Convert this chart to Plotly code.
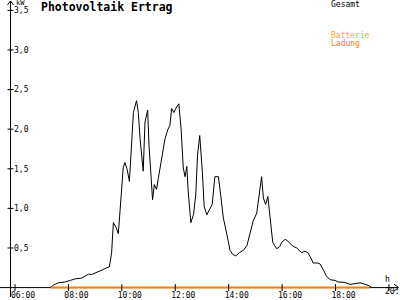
import plotly.graph_objects as go

DAY = "2024-06-01 "

# Gesamt (kW)
times = ["07:19","07:26","07:37","07:52","08:04","08:15","08:30","08:37","08:45","08:52",
         "09:04","09:15","09:26","09:32","09:37","09:41","09:47","09:52","09:56","10:00",
         "10:03","10:07","10:12","10:17","10:21","10:26","10:33","10:37","10:41","10:45",
         "10:48","10:52","10:58","11:01","11:06","11:09","11:13","11:18","11:22","11:30",
         "11:37","11:43","11:48","11:52","11:57","12:03","12:08","12:13","12:18","12:22",
         "12:26","12:29","12:35","12:41","12:46","12:50","12:55","13:01","13:05","13:11",
         "13:18","13:23","13:29","13:37","13:42","13:48","13:56","14:03","14:09","14:16",
         "14:24","14:33","14:41","14:48","14:55","15:03","15:09","15:14","15:18","15:23",
         "15:28","15:33","15:39","15:48","15:55","15:59","16:07","16:14","16:25","16:33",
         "16:44","16:51","16:58","17:03","17:10","17:20","17:25","17:33","17:40","17:48",
         "17:59","18:06","18:21","18:33","18:44","18:55","19:02","19:10","19:17","19:20"]
gesamt = [0, 0.03, 0.06, 0.07, 0.09, 0.11, 0.12, 0.14, 0.17, 0.165,
          0.19, 0.22, 0.25, 0.26, 0.44, 0.82, 0.76, 0.68, 0.97, 1.22,
          1.51, 1.58, 1.49, 1.34, 1.67, 2.21, 2.36, 2.21, 1.88, 1.59,
          1.47, 2.09, 2.24, 1.80, 1.30, 1.11, 1.30, 1.24, 1.38, 1.67,
          1.88, 1.99, 2.05, 2.26, 2.21, 2.28, 2.32, 2.01, 1.51, 1.40,
          1.53, 1.22, 0.82, 0.92, 1.17, 1.67, 1.92, 1.45, 1.02, 0.92,
          0.99, 1.05, 1.40, 1.40, 1.17, 0.88, 0.67, 0.47, 0.42, 0.40,
          0.44, 0.47, 0.53, 0.67, 0.84, 0.94, 1.22, 1.40, 1.13, 1.05,
          1.15, 0.88, 0.57, 0.49, 0.52, 0.57, 0.61, 0.58, 0.52, 0.50,
          0.44, 0.46, 0.44, 0.39, 0.31, 0.31, 0.30, 0.22, 0.14, 0.10,
          0.09, 0.07, 0.065, 0.04, 0.05, 0.06, 0.05, 0.03, 0.02, 0]

# Batterie Ladung (kW)
batt_times = ["07:20", "19:17"]
batt = [0, 0]

x_ticks = ["06:00", "08:00", "10:00", "12:00", "14:00", "16:00", "18:00", "20:00"]
x_labels = ["06:00", "08:00", "10:00", "12:00", "14:00", "16:00", "18:00"]
last_label = "20:"          # label of the last tick, cut at the right edge
y_ticks = [0.5, 1.0, 1.5, 2.0, 2.5, 3.0, 3.5]
y_ticktext = ["0,5", "1,0", "1,5", "2,0", "2,5", "3,0", "3,5"]

W, H = 400, 300
def px(x): return x / W
def py(y): return 1 - y / H

MONO = "DejaVu Sans Mono"

fig = go.Figure()
fig.add_trace(go.Scatter(x=[DAY + t for t in times], y=gesamt, mode="lines",
                         line=dict(color="black", width=1), hoverinfo="skip",
                         showlegend=False))
fig.add_trace(go.Scatter(x=[DAY + t for t in batt_times], y=batt, mode="lines",
                         line=dict(color="#ff8000", width=2), hoverinfo="skip",
                         showlegend=False))

shapes = []
# axis lines
shapes.append(dict(type="line", xref="paper", yref="paper", x0=px(0), x1=px(398),
                   y0=py(290.5), y1=py(290.5), line=dict(color="black", width=1), layer="below"))
shapes.append(dict(type="line", xref="paper", yref="paper", x0=px(10.5), x1=px(10.5),
                   y0=py(1), y1=py(300), line=dict(color="black", width=1)))
# arrowheads
shapes.append(dict(type="path", xref="paper", yref="paper",
                   path=f"M {px(394)} {py(287)} L {px(398.5)} {py(290.5)} L {px(394)} {py(294)}",
                   line=dict(color="black", width=1)))
shapes.append(dict(type="path", xref="paper", yref="paper",
                   path=f"M {px(7.5)} {py(5)} L {px(10.5)} {py(1)} L {px(13.5)} {py(5)}",
                   line=dict(color="black", width=1)))
# tick crosses
for t in x_ticks:
    shapes.append(dict(type="line", xref="x", yref="paper", x0=DAY + t, x1=DAY + t,
                       y0=py(287), y1=py(294), line=dict(color="black", width=1)))
for v in y_ticks:
    shapes.append(dict(type="line", xref="paper", yref="y", x0=px(7.5), x1=px(13.5),
                       y0=v, y1=v, line=dict(color="black", width=1)))

annotations = [
    dict(text="<b>Photovoltaik Ertrag</b>", x=px(39), y=py(7), xref="paper", yref="paper",
         xanchor="left", yanchor="middle", showarrow=False,
         font=dict(family=MONO, size=11.5, color="black")),
    dict(text="kW", x=px(14), y=py(3), xref="paper", yref="paper",
         xanchor="left", yanchor="middle", showarrow=False,
         font=dict(family=MONO, size=7, color="black")),
    dict(text="Gesamt", x=px(329), y=py(4.5), xref="paper", yref="paper",
         xanchor="left", yanchor="middle", showarrow=False,
         font=dict(family=MONO, size=8, color="black")),
    dict(text="Batterie", x=px(329), y=py(36), xref="paper", yref="paper",
         xanchor="left", yanchor="middle", showarrow=False,
         font=dict(family=MONO, size=8, color="#ffaa00")),
    dict(text="Ladung", x=px(329), y=py(44), xref="paper", yref="paper",
         xanchor="left", yanchor="middle", showarrow=False,
         font=dict(family=MONO, size=8, color="#ff8000")),
    dict(text="h", x=px(387), y=py(282), xref="paper", yref="paper",
         xanchor="center", yanchor="middle", showarrow=False,
         font=dict(family=MONO, size=8, color="black")),
    dict(text=last_label, x=px(400), y=py(299.5), xref="paper", yref="paper",
         xanchor="right", yanchor="bottom", showarrow=False, borderpad=0,
         font=dict(family=MONO, size=8, color="black")),
]

fig.update_layout(
    width=W, height=H, margin=dict(l=0, r=0, t=0, b=0),
    paper_bgcolor="white", plot_bgcolor="white",
    shapes=shapes, annotations=annotations,
    xaxis=dict(type="date", range=[DAY + "05:26:18", DAY + "20:24:51"],
               anchor="free", position=9.5 / H, showgrid=False, zeroline=False,
               showline=False, ticks="",
               tickvals=[DAY + t for t in x_labels], ticktext=x_labels,
               ticklabelshift=8, ticklabelstandoff=1, ticklabeloverflow="allow",
               tickfont=dict(family=MONO, size=8, color="black")),
    yaxis=dict(range=[-0.119, 3.631], anchor="free", position=10 / W,
               showgrid=False, zeroline=False, showline=False, ticks="",
               ticklabelposition="inside", ticklabeloverflow="allow",
               tickvals=y_ticks, ticktext=y_ticktext,
               tickfont=dict(family=MONO, size=8, color="black")),
)

fig.write_html("out.html")
